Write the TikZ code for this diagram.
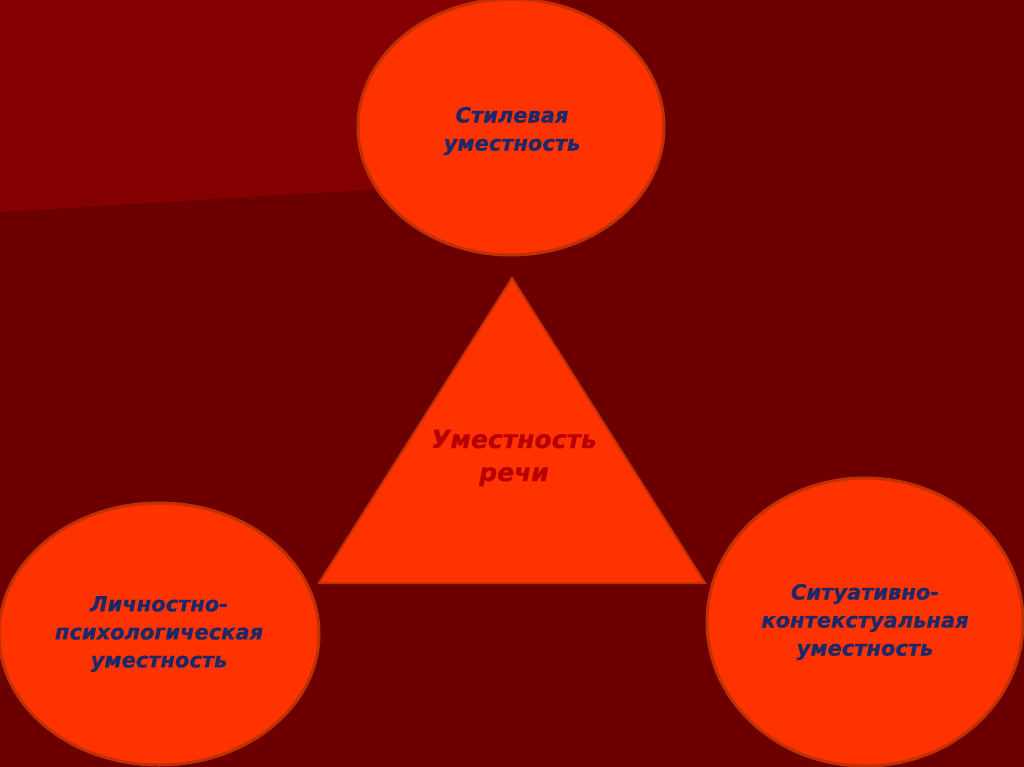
\documentclass[tikz,border=0pt]{standalone}
\usepackage{fontspec}
\setmainfont{DejaVu Sans}
\newfontfamily\heavyfont[BoldItalicFeatures={FakeBold=0.6}]{DejaVu Sans}
\usetikzlibrary{shapes.geometric}
\definecolor{bgdark}{HTML}{6C0000}
\definecolor{bglight}{HTML}{850000}
\definecolor{bubblefill}{HTML}{FF3300}
\definecolor{bubbleedge}{HTML}{C03000}
\definecolor{labelblue}{HTML}{1C2868}
\definecolor{coretext}{HTML}{B80000}
\begin{document}
\begin{tikzpicture}[x=1pt,y=-1pt]
    % Define the styles for the ellipses and the triangle
    \tikzstyle{bubble}=[ellipse, draw=bubbleedge, fill=bubblefill, line width=3pt, inner sep=0pt, align=center, text=labelblue, font=\heavyfont\bfseries\itshape\fontsize{21}{28}\selectfont]
    \tikzstyle{core}=[draw=bubbleedge, fill=bubblefill, line width=2pt, line join=miter]
    \tikzstyle{coretitle}=[align=center, text=coretext, font=\heavyfont\bfseries\itshape\fontsize{25}{33}\selectfont]

    % Draw the background
    \useasboundingbox (0,0) rectangle (1024,767);
    \fill[bgdark] (0,0) rectangle (1024,767);
    \fill[bglight] (0,0) -- (560,0) -- (560,178) -- (0,212) -- cycle;

    % Draw the triangle in the middle
    \coordinate (apex) at (512,278);
    \coordinate (base_left) at (319,583);
    \coordinate (base_right) at (705,583);
    \filldraw[core] (apex) -- (base_right) -- (base_left) -- cycle;
    \node[coretitle] (speech) at (514,458) {Уместность\\речи};

    % Draw the ellipses
    \node[bubble, minimum width=306, minimum height=256] (style) at (511,127) {};
    \node[bubble, draw=none, fill=none] (style_text) at (512,131) {Стилевая\\уместность};
    \node[bubble, minimum width=320, minimum height=262] (personal) at (159,634) {Личностно-\\психологическая\\уместность};
    \node[bubble, minimum width=316, minimum height=288] (situation) at (865,622) {Ситуативно-\\контекстуальная\\уместность};
\end{tikzpicture}
\end{document}
